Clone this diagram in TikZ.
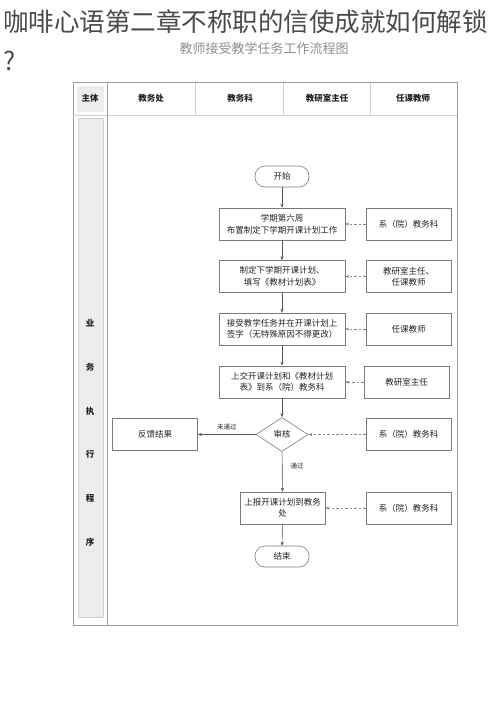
\documentclass[tikz,border=0pt]{standalone}
\usepackage{fontspec}
\setmainfont{Noto Sans CJK SC}
\usetikzlibrary{shapes.geometric,arrows.meta}
\definecolor{framegray}{HTML}{9A9A9A}
\definecolor{lightline}{HTML}{CFCFCF}
\definecolor{lanefill}{HTML}{EDEDED}
\definecolor{boxgray}{HTML}{7A7A7A}
\definecolor{arrowgray}{HTML}{555555}
\definecolor{dashgray}{HTML}{888888}
\definecolor{txt}{HTML}{222222}
\definecolor{titlec}{HTML}{4A4A4A}
\definecolor{subc}{HTML}{8E8E8E}
\begin{document}
\begin{tikzpicture}[x=1pt,y=-1pt,
  box/.style={draw=boxgray, line width=0.6pt, minimum width=126pt, minimum height=32pt,
    inner sep=1pt, align=center, font=\fontsize{8.5}{11.5}\selectfont, text=txt},
  side/.style={box, minimum width=85pt},
  term/.style={draw=boxgray, line width=0.6pt, rounded corners=10pt, minimum width=54pt,
    minimum height=21pt, inner sep=1pt, font=\fontsize{8.5}{10}\selectfont, text=txt},
  dec/.style={diamond, draw=boxgray, line width=0.6pt, minimum width=52pt, minimum height=34pt,
    inner sep=0pt, aspect=1.6, font=\fontsize{8.5}{10}\selectfont, text=txt},
  flow/.style={-{Stealth[length=4pt,width=3.2pt]}, draw=arrowgray, line width=0.6pt},
  dflow/.style={flow, draw=dashgray, dashed, dash pattern=on 2.5pt off 2pt},
  lbl/.style={font=\fontsize{6.5}{8}\selectfont, text=txt, inner sep=1pt},
  head/.style={font=\bfseries\fontsize{8.5}{10}\selectfont, text=txt},
  lane/.style={font=\bfseries\fontsize{8.5}{10}\selectfont, text=txt}
]
\useasboundingbox (0,0) rectangle (500,707);
% titles
\node[anchor=west, inner sep=0pt, font=\fontsize{25.5}{28}\selectfont, text=titlec] (title) at (3,22) {咖啡心语第二章不称职的信使成就如何解锁};
\node[anchor=west, inner sep=0pt, font=\fontsize{25.5}{28}\selectfont, text=titlec] (qmark) at (3,61) {?};
\node[inner sep=0pt, font=\fontsize{13}{15}\selectfont, text=subc] (subtitle) at (264,49) {教师接受教学任务工作流程图};
% frame
\fill[lanefill] (77,86) rectangle (104,112);
\draw[lightline, fill=lanefill] (78,118) rectangle (103,617);
\draw[lightline] (195,82) -- (195,115) (283,82) -- (283,115) (370,82) -- (370,115);
\draw[framegray, line width=0.7pt] (73,82) rectangle (457,625);
\draw[framegray, line width=0.5pt] (107,82) -- (107,625);
\draw[lightline, line width=0.6pt] (107,115) -- (457,115);
\draw[lightline, line width=0.4pt] (73,115) -- (107,115);
% header
\node[head] (h0) at (90,98) {主体};
\node[head] (h1) at (151,98) {教务处};
\node[head] (h2) at (240,98) {教务科};
\node[head] (h3) at (327,98) {教研室主任};
\node[head] (h4) at (413,98) {任课教师};
% lane labels
\node[lane] (l1) at (90,323) {业};
\node[lane] (l2) at (90,367) {务};
\node[lane] (l3) at (90,411) {执};
\node[lane] (l4) at (90,454) {行};
\node[lane] (l5) at (90,498) {程};
\node[lane] (l6) at (90,542) {序};
% flow nodes
\node[term] (start) at (282,176.5) {开始};
\node[box] (b1) at (282,224) {学期第六周\\布置制定下学期开课计划工作};
\node[box] (b2) at (282,276.5) {制定下学期开课计划、\\填写《教材计划表》};
\node[box] (b3) at (282,329) {接受教学任务并在开课计划上\\签字（无特殊原因不得更改）};
\node[box] (b4) at (282,382) {上交开课计划和《教材计划\\表》到系（院）教务科};
\node[dec] (chk) at (282,434.5) {审核};
\node[side] (fb) at (155,434.5) {反馈结果};
\node[side] (b5) at (282.5,508) {上报开课计划到教务\\处};
\node[term] (end) at (282,556.5) {结束};
% side nodes
\node[side] (r1) at (408.5,224) {系（院）教务科};
\node[side] (r2) at (408.5,276.5) {教研室主任、\\任课教师};
\node[side] (r3) at (408.5,329) {任课教师};
\node[side] (r4) at (406.5,382) {教研室主任};
\node[side] (r5) at (408.5,434.5) {系（院）教务科};
\node[side] (r6) at (408.5,508) {系（院）教务科};
% connectors
\draw[flow] (start) -- (b1);
\draw[flow] (b1) -- (b2);
\draw[flow] (b2) -- (b3);
\draw[flow] (b3) -- (b4);
\draw[flow] (b4) -- (chk);
\draw[flow] (chk) -- node[lbl, pos=0.35, right=7pt] {通过} (b5);
\draw[flow] (b5) -- (end);
\draw[flow] (chk) -- node[lbl, above=3pt] {未通过} (fb);
\draw[dflow] (r1) -- (b1);
\draw[dflow] (r2) -- (b2);
\draw[dflow] (r3) -- (b3);
\draw[dflow] (r4) -- (b4);
\draw[dflow] (r5) -- (chk);
\draw[dflow] (r6) -- (b5);
\end{tikzpicture}
\end{document}
